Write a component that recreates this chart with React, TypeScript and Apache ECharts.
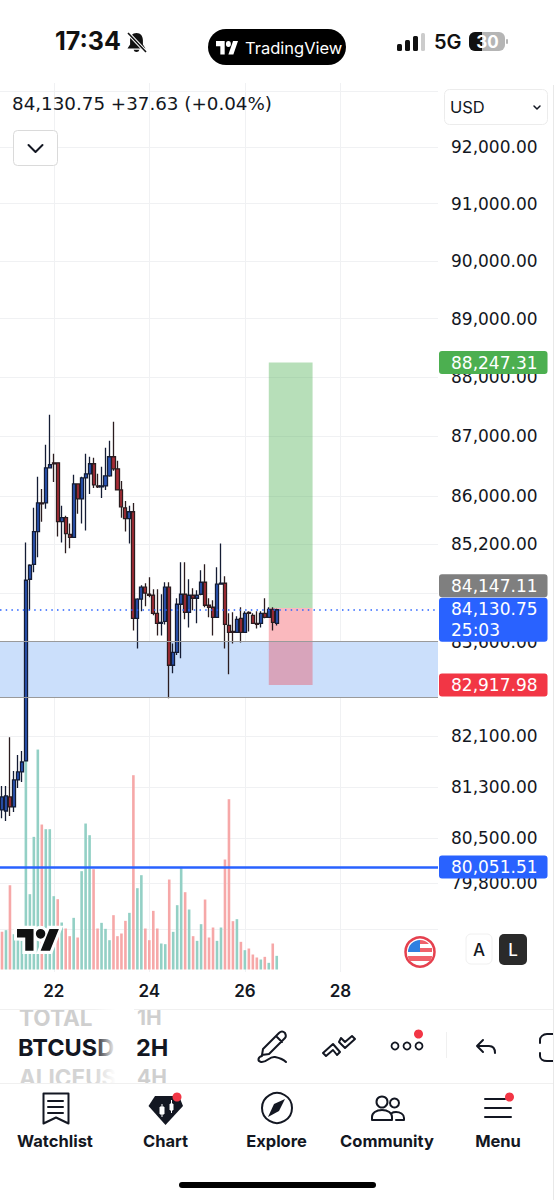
import React, { useEffect, useRef } from "react";
import * as echarts from "echarts";

// ECharts candlestick order: open, close, low, high
const candles: number[][] = [
  [80938, 81142, 80810, 81315], [80922, 81158, 80766, 81315], [81142, 80985, 80844, 82084], [80985, 81409, 80907, 81550],
  [81409, 81535, 81284, 81802], [81535, 81692, 81378, 81864], [81708, 84612, 81708, 85232], [84628, 84857, 84122, 84873],
  [84873, 85412, 84743, 85804], [85412, 85886, 84988, 86319], [85886, 85869, 85575, 86118], [85886, 86470, 85788, 86857],
  [86470, 86521, 86470, 87361], [86554, 86538, 86235, 86706], [86554, 85575, 85330, 86554], [85575, 85641, 85232, 85837],
  [85641, 85379, 85053, 85673], [85363, 85314, 85135, 85543], [85314, 86202, 85314, 86353], [86202, 85951, 85706, 86202],
  [85951, 86302, 85543, 86319], [86302, 86370, 85428, 86706], [86370, 86538, 86034, 86655], [86538, 86185, 86134, 86638],
  [86168, 86151, 86134, 86370], [86151, 86168, 85967, 86487], [86168, 86336, 86101, 86806], [86336, 86655, 86319, 86924],
  [86655, 86454, 86420, 87243], [86454, 86101, 86101, 86588], [86101, 85820, 85641, 86252], [85804, 85624, 85412, 85918],
  [85624, 85739, 85216, 85837], [85739, 83991, 83795, 85886], [83991, 84302, 83504, 84318], [84302, 84498, 84106, 84530],
  [84498, 84400, 84187, 84563], [84383, 84367, 84334, 84661], [84367, 84073, 84040, 84465], [84073, 83910, 83714, 84465],
  [83910, 83926, 83714, 84383], [83942, 84498, 83893, 84579], [84498, 83233, 82706, 84579], [83233, 83440, 83105, 83584],
  [83440, 84220, 83400, 84318], [84220, 84383, 83345, 84906], [84383, 84089, 83975, 84906], [84089, 84367, 83844, 84628],
  [84367, 84318, 84122, 84481], [84318, 84367, 83910, 84449], [84383, 84579, 84367, 84775], [84579, 84204, 84171, 84873],
  [84204, 84171, 84008, 84318], [84171, 84008, 83714, 84285], [84008, 84547, 84008, 84824], [84547, 84563, 84547, 85216],
  [84563, 83893, 83504, 84677], [83877, 83763, 83089, 84073], [83779, 83763, 83584, 84089], [83763, 83975, 83763, 84024],
  [83991, 83763, 83600, 84171], [83763, 84073, 83763, 84106], [84089, 84073, 83779, 84106], [84040, 83910, 83910, 84073],
  [83910, 83893, 83828, 84106], [83910, 84073, 83844, 84106], [84073, 84008, 83991, 84318], [84008, 84138, 84008, 84171],
  [84138, 83926, 83795, 84171], [83910, 84130.75, 83877, 84147.11],
];

const volumes: number[] = [
  113, 118, 253, 106, 88, 86, 640, 226, 398, 660, 435, 421, 421, 220, 211, 141, 123, 100, 155, 96,
  295, 438, 403, 301, 123, 140, 122, 88, 163, 100, 108, 146, 170, 583, 244, 283, 123, 88, 176, 123,
  78, 76, 270, 113, 193, 308, 232, 180, 100, 86, 136, 210, 96, 126, 86, 126, 330, 511, 145, 151,
  83, 58, 63, 45, 36, 30, 38, 20, 78, 41,
];

const volumeUp: boolean[] = [
  false, true, false, true, true, true, true, true, true, true, false, true, true, true, false, true, false, false, true, false,
  true, true, true, false, false, true, true, true, false, false, false, false, true, false, true, true, false, false, false, false,
  true, true, false, true, true, true, false, true, false, true, true, false, false, false, true, true, false, false, false, true,
  false, true, false, false, false, true, false, true, false, true,
];

const priceTicks = [93000, 92000, 91000, 90000, 89000, 88000, 87000, 86000, 85200, 84400, 83600, 82800, 82100, 81300, 80500, 79800, 79100];
const labelledTicks = [92000, 91000, 90000, 89000, 88000, 87000, 86000, 85200, 83600, 82100, 81300, 80500, 79800];
const dayLabels = ["22", "24", "26", "28"];

const lastPrice = 84130.75;
const entryPrice = 84147.11;
const targetPrice = 88247.31;
const stopPrice = 82917.98;
const supportLine = 80051.51;
const zoneTop = 83620;
const zoneBottom = 82724;
const axisMin = 78443;
const axisMax = 93145;

const hours = ["00", "02", "04", "06", "08", "10", "12", "14", "16", "18", "20", "22"];
const categories: string[] = ["20 22:00", "21 00:00", "21 02:00", "21 04:00", "21 06:00", "21 08:00", "21 10:00", "21 12:00", "21 14:00", "21 16:00", "21 18:00", "21 20:00", "21 22:00"];
["22", "23", "24", "25", "26", "27", "28", "29", "30"].forEach((d) =>
  hours.forEach((h) => {
    if (categories.length < 110) categories.push(h === "00" ? d : `${d} ${h}:00`);
  })
);

const FONT = "Inter";
const NUM_FONT = "DejaVu Sans";
const fmt = (v: number) => v.toLocaleString("en-US", { minimumFractionDigits: 2, maximumFractionDigits: 2 });

const TV_LOGO = "M14 22H7V11H0V4h14v18zM28 22h-8l7.5-18h8L28 22zM24 8a4 4 0 1 1-8 0a4 4 0 1 1 8 0z";

const shapes: Record<string, string> = {
  tvlogo: TV_LOGO,
  bell: "M136.5 33c-4.2 0-6.400 3.200-6.400 7.200v4.200l-2.600 4h18l-2.600-4v-4.200c0-4-2.200-7.200-6.400-7.200zM133.600 49.800a3 3 0 0 0 5.800 0z",
  chev: "M-7 -4L0 3L7 -4",
  chev2: "M-3 -2L0 1L3 -2",
  pen: "M263 1049l16-16c2-2 4-2 6 0c1 2 1 4 0 5l-16 16l-7 1zM276 1036l6 6M262 1056c-4 1-5 5-1 6c6 1 8-6 14-5c5 1 8 2 11 5",
  zig: "M323 1053l10-9l7 8l-3 3l-4-5l-7 6zM339 1042l6 6l10-9l-3-3l-7 6l-4-4z",
  undo: "M483 1040l-6 6l6 6M477 1046h12c4 0 6 3 6 7",
  bracket1: "M553 1034h-6c-4 0-7 3-7 6v3",
  bracket2: "M553 1061h-6c-4 0-7-2-7-5v-3",
  watch: "M43.500 1093.500h25v30l-12.500-6l-12.500 6z",
  watchlines: "M48 1101h15M48 1107h15M48 1113h15",
  chartbadge: "M155 1096h24l4 10l-17.500 19l-17-19z",
  chartmarks: "M160 1107h4v7h-4zM162 1104v13M170 1104h3v6h-3zM171.500 1100v13",
  needle: "M268 1117l6-13l11-5l-6 12z",
  people: "M372 1120v-3c0-4 4-7 10-7c6 0 10 3 10 7v3zM396 1120h8v-2c0-4-4-6-8-6c-1 0-3 0-4 1",
  menulines: "M485 1099h20M485 1108h26M485 1117h26",
  flagtop: "M408 952a12 12 0 0 1 12-12v12z",
  flagstripe: "M420 940a12 12 0 0 1 9 4h-9zM420 948h12v4h-12z",
  flagbottom: "M408 956h24c0 3 -1 4 -2 5h-20c-1-1-2-2-2-5z",
};
Object.keys(shapes).forEach((k) => {
  echarts.graphic.registerShape(k, echarts.graphic.extendPath(shapes[k], {}));
});

const Z = 100;
const txt = (text: string, x: number, y: number, size: number, weight: number | string, fill: string, align = "left", extra: any = {}) => ({
  type: "text", z: Z, x, y,
  style: { text, fontFamily: FONT, fontSize: size, fontWeight: weight, fill, align, verticalAlign: "middle", ...extra },
});
const rect = (x: number, y: number, width: number, height: number, r: number, style: any) => ({
  type: "rect", z: Z, shape: { x, y, width, height, r }, style,
});
const circle = (cx: number, cy: number, r: number, style: any) => ({ type: "circle", z: Z, shape: { cx, cy, r }, style });
const line = (x1: number, y1: number, x2: number, y2: number, stroke: string, lineWidth = 1) => ({
  type: "line", z: Z, shape: { x1, y1, x2, y2 }, style: { stroke, lineWidth },
});
const shape = (type: string, style: any, extra: any = {}) => ({ type, z: Z, style, ...extra });
const strokeStyle = (w = 2, c = "#131722") => ({ fill: "none", stroke: c, lineWidth: w, lineCap: "round", lineJoin: "round" });

const fade = (x0: number, x1: number, y0: number, y1: number) =>
  new echarts.graphic.LinearGradient(x0, y0, x1, y1, [
    { offset: 0, color: "rgba(255,255,255,0)" },
    { offset: 1, color: "rgba(255,255,255,1)" },
  ]);

const graphics: any[] = [
  // status bar
  txt("17:34", 55, 41, 25, 700, "#111"),
  shape("bell", { fill: "#111" }),
  line(128, 33, 146, 52, "#fff", 3.500),
  line(128, 33, 146, 52, "#111", 1.600),
  rect(208, 29, 138, 36, 18, { fill: "#000" }),
  shape("tvlogo", { fill: "#fff" }, { x: 216, y: 38, scaleX: 0.62, scaleY: 0.75 }),
  txt("TradingView", 245, 48, 16.500, 400, "#fff"),
  rect(397, 44, 5, 7, 1.500, { fill: "#111" }),
  rect(405, 40, 5, 11, 1.500, { fill: "#111" }),
  rect(413, 36, 5, 15, 1.500, { fill: "#111" }),
  rect(421, 33, 4, 18, 1.500, { fill: "#ccc" }),
  txt("5G", 434, 42, 20, 600, "#111"),
  rect(469, 32, 36, 19, 6, { fill: "#b5b5b5" }),
  rect(469, 32, 13, 19, 6, { fill: "#111" }),
  rect(476, 32, 6, 19, 0, { fill: "#111" }),
  rect(506, 39, 2, 5, 1, { fill: "#b5b5b5" }),
  txt("30", 487.500, 42, 17, 700, "#fff", "center"),

  // legend row
  txt(`${fmt(lastPrice)} +37.63 (+0.04%)`, 12, 103, 18.300, 400, "#131722", "left", { fontFamily: NUM_FONT }),
  rect(13.500, 130.500, 44, 35, 4, { fill: "#fff", stroke: "#dadada", lineWidth: 1 }),
  shape("chev", strokeStyle(2), { x: 35.500, y: 149 }),
  rect(444.500, 89.500, 103, 35, 5, { fill: "#fff", stroke: "#ececec", lineWidth: 1 }),
  txt("USD", 450, 107, 16.500, 400, "#131722"),
  shape("chev2", strokeStyle(1.500), { x: 537, y: 108 }),

  // watermark logo
  shape("tvlogo", { fill: "#fff", stroke: "#fff", lineWidth: 5 }, { x: 17, y: 924, scaleX: 1.18, scaleY: 1.22 }),
  shape("tvlogo", { fill: "#111" }, { x: 17, y: 924, scaleX: 1.18, scaleY: 1.22 }),

  // flag + scale buttons
  circle(420, 952, 14.500, { fill: "#fff", stroke: "#e5404e", lineWidth: 2.500 }),
  shape("flagtop", { fill: "#2f7fe0" }),
  shape("flagstripe", { fill: "#f0616b" }),
  shape("flagbottom", { fill: "#f0616b" }),
  rect(466, 934, 26, 30, 5, { fill: "#fff", stroke: "#f0f0f0", lineWidth: 1 }),
  txt("A", 479, 950, 17, 500, "#131722", "center"),
  rect(499, 934, 28, 31, 5, { fill: "#2a2a2a" }),
  txt("L", 513, 950, 17, 500, "#fff", "center"),

  // toolbar
  txt("TOTAL", 19, 1017, 22.500, 700, "#cfcfcf"),
  txt("1H", 137, 1017, 21, 700, "#cfcfcf"),
  txt("ALICEUS", 19, 1077, 22.500, 700, "#d4d4d4"),
  txt("4H", 137, 1077, 21, 700, "#cfcfcf"),
  rect(0, 1000, 554, 9, 0, { fill: "#fff" }),
  rect(0, 1083, 554, 12, 0, { fill: "#fff" }),
  line(0, 1009.500, 554, 1009.500, "#f0f0f0"),
  line(0, 1083.500, 554, 1083.500, "#f0f0f0"),
  txt("BTCUSD", 18, 1047, 23.500, 700, "#131722"),
  rect(94, 1005, 22, 78, 0, { fill: fade(0, 1, 0, 0) }),
  rect(116, 1005, 18, 78, 0, { fill: "#fff" }),
  txt("2H", 136, 1047, 23.500, 700, "#131722"),
  shape("pen", strokeStyle(2)),
  shape("zig", strokeStyle(2)),
  circle(395, 1046, 3.500, { fill: "#fff", stroke: "#131722", lineWidth: 1.800 }),
  circle(407, 1046, 3.500, { fill: "#fff", stroke: "#131722", lineWidth: 1.800 }),
  circle(419, 1046, 3.500, { fill: "#fff", stroke: "#131722", lineWidth: 1.800 }),
  circle(418.500, 1034, 4.500, { fill: "#f23645" }),
  line(446.500, 1032, 446.500, 1058, "#f0f0f0"),
  shape("undo", strokeStyle(2)),
  shape("bracket1", strokeStyle(2)),
  shape("bracket2", strokeStyle(2)),

  // bottom nav
  shape("watch", strokeStyle(2)),
  shape("watchlines", strokeStyle(2)),
  txt("Watchlist", 55, 1141, 16.500, 700, "#131722", "center"),
  shape("chartbadge", { fill: "#131722" }),
  shape("chartmarks", { fill: "#fff", stroke: "#fff", lineWidth: 1 }),
  circle(177, 1097, 4.500, { fill: "#f23645" }),
  txt("Chart", 165.500, 1141, 16.500, 700, "#131722", "center"),
  circle(277, 1108, 15, { fill: "#fff", stroke: "#131722", lineWidth: 2 }),
  shape("needle", { fill: "#131722" }),
  txt("Explore", 276.500, 1141, 16.500, 700, "#131722", "center"),
  circle(382, 1102, 5.500, { fill: "#fff", stroke: "#131722", lineWidth: 2 }),
  circle(394.500, 1103, 4.500, { fill: "#fff", stroke: "#131722", lineWidth: 2 }),
  shape("people", strokeStyle(2)),
  txt("Community", 387, 1141, 16.500, 700, "#131722", "center"),
  shape("menulines", strokeStyle(2)),
  circle(509.500, 1097, 4.500, { fill: "#f23645" }),
  txt("Menu", 498, 1141, 16.500, 700, "#131722", "center"),
  rect(179, 1182, 197, 6, 3, { fill: "#000" }),
  line(553.500, 85, 553.500, 1200, "#e8e8e8"),
];

const badge = (value: number, text: string, bg: string, offsetY: number) => ({
  yAxis: value,
  lineStyle: { color: "rgba(0,0,0,0)", width: 0 },
  label: {
    show: true,
    position: "end",
    distance: 1,
    formatter: text,
    color: "#fff",
    backgroundColor: bg,
    borderRadius: 3,
    fontFamily: NUM_FONT,
    fontSize: 17,
    lineHeight: 21,
    padding: [1, 10, 1, 12],
    offset: [0, offsetY],
  },
});
const plain = (value: number, stroke: string, width: number, type: any) => ({
  yAxis: value,
  label: { show: false },
  lineStyle: { color: stroke, width, type, opacity: 1 },
});

const isLabelled = (_: number, v: string) => dayLabels.includes(v);

const option: any = {
  animation: false,
  backgroundColor: "#fff",
  graphic: { elements: graphics },
  grid: [
    { left: -2, width: 440, top: 83, height: 889 },
    { left: -2, width: 440, top: 83, height: 886.500 },
  ],
  xAxis: [
    {
      type: "category", gridIndex: 0, data: categories, boundaryGap: true,
      axisLine: { show: false }, axisTick: { show: false },
      axisLabel: { interval: isLabelled, fontFamily: FONT, fontWeight: 600, fontSize: 17, color: "#131722", margin: 10 },
      splitLine: { show: true, interval: isLabelled, alignWithLabel: true, lineStyle: { color: "#f0f1f3", width: 1 } },
    },
    {
      type: "category", gridIndex: 1, data: categories, boundaryGap: true,
      axisLine: { show: false }, axisTick: { show: false }, axisLabel: { show: false }, splitLine: { show: false },
    },
  ],
  yAxis: [
    {
      type: "log", gridIndex: 0, position: "right", min: axisMin, max: axisMax, logBase: 10,
      axisLine: { show: false },
      axisTick: { show: false, customValues: priceTicks },
      axisLabel: {
        customValues: labelledTicks, margin: 13, align: "left", fontFamily: NUM_FONT, fontSize: 17, color: "#131722",
        formatter: (v: number) => fmt(v),
      },
      splitLine: { show: true, lineStyle: { color: "#f0f1f3", width: 1 } },
    },
    {
      type: "value", gridIndex: 1, min: 0, max: 2660, show: false, splitLine: { show: false },
    },
  ],
  series: [
    {
      type: "bar", xAxisIndex: 1, yAxisIndex: 1, barWidth: 2.600, z: 1, silent: true,
      data: volumes.map((v, i) => ({ value: v, itemStyle: { color: volumeUp[i] ? "#93d0c5" : "#f6a8a8" } })),
    },
    {
      type: "candlestick", xAxisIndex: 0, yAxisIndex: 0, barWidth: 3.600, z: 3, silent: true,
      itemStyle: { color: "#2a55b8", color0: "#a82c36", borderColor: "#141c34", borderColor0: "#2b1c1f", borderWidth: 1.300 },
      data: candles,
      markArea: {
        silent: true,
        data: [
          [{ yAxis: zoneTop, x: 0, itemStyle: { color: "#cbdffb" } }, { yAxis: zoneBottom, x: 438 }],
          [{ xAxis: 67, yAxis: targetPrice, itemStyle: { color: "rgba(76,175,80,0.4)" } }, { xAxis: 78, yAxis: lastPrice + 30 }],
          [{ xAxis: 67, yAxis: lastPrice + 30, itemStyle: { color: "rgba(242,54,69,0.35)" } }, { xAxis: 78, yAxis: stopPrice }],
        ],
      },
      markLine: {
        silent: true, symbol: "none", animation: false,
        data: [
          plain(zoneTop, "#9a9a9a", 1, "solid"),
          plain(zoneBottom, "#9a9a9a", 1, "solid"),
          plain(lastPrice, "#2962ff", 1.500, [1.500, 4.200]),
          plain(supportLine, "#2962ff", 2.500, "solid"),
          badge(targetPrice, fmt(targetPrice), "#4caf50", 0),
          badge(stopPrice, fmt(stopPrice), "#f23645", 0),
          badge(supportLine, fmt(supportLine), "#2962ff", 0),
          badge(entryPrice, fmt(entryPrice), "#7f7f7f", -23),
          badge(lastPrice, `${fmt(lastPrice)}\n25:03`, "#2962ff", 10),
        ],
      },
    },
  ],
};

export default function App() {
  const ref = useRef<HTMLDivElement>(null);
  useEffect(() => {
    const chart = echarts.init(ref.current!, undefined, { renderer: "svg" });
    chart.setOption(option);
    return () => chart.dispose();
  }, []);
  return <div ref={ref} style={{ position: "absolute", left: 0, top: 0, width: 554, height: 1200 }} />;
}
